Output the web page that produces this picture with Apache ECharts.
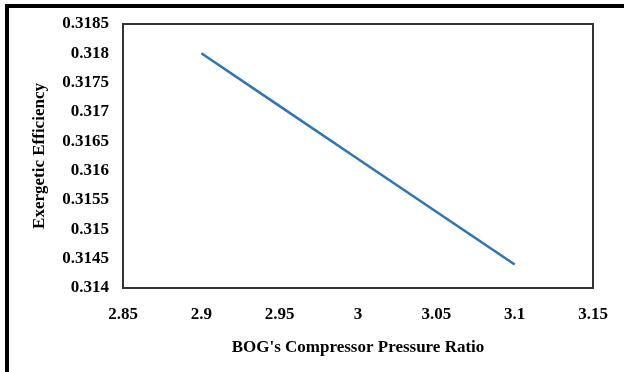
<!DOCTYPE html>
<html>
<head>
<meta charset="utf-8">
<script src="https://cdn.jsdelivr.net/npm/echarts@6/dist/echarts.min.js"></script>
<style>
html,body{margin:0;padding:0;background:#fff;}
#chart{width:624px;height:372px;}
</style>
</head>
<body>
<div id="chart"></div>
<script>
var pressureRatio = [2.9, 2.95, 3.0, 3.05, 3.1];
var exergeticEfficiency = [0.318, 0.3171, 0.3162, 0.3153, 0.3144];
var xTitle = "BOG's Compressor Pressure Ratio";
var yTitle = "Exergetic Efficiency";

var chart = echarts.init(document.getElementById('chart'), null, {renderer: 'canvas'});
var font = "'Liberation Serif', 'Times New Roman', serif";
var data = pressureRatio.map(function (x, i) { return [x, exergeticEfficiency[i]]; });

chart.setOption({
  animation: false,
  backgroundColor: '#fff',
  grid: {
    left: 123, right: 31, top: 24, bottom: 84,
    show: true, borderColor: '#333', borderWidth: 2, backgroundColor: 'transparent'
  },
  xAxis: {
    type: 'value', min: 2.85, max: 3.15, interval: 0.05,
    name: xTitle, nameLocation: 'middle', nameGap: 51,
    nameTextStyle: {fontFamily: font, fontWeight: 'bold', fontSize: 17, color: '#000'},
    axisLine: {show: true, lineStyle: {color: '#333', width: 2}},
    axisTick: {show: false},
    splitLine: {show: false},
    axisLabel: {
      margin: 18, fontFamily: font, fontWeight: 'bold', fontSize: 17, color: '#000',
      formatter: function (v) { return String(+v.toFixed(2)); }
    }
  },
  yAxis: {
    type: 'value', min: 0.314, max: 0.3185, interval: 0.0005,
    name: yTitle, nameLocation: 'middle', nameGap: 75, nameRotate: 90,
    nameTextStyle: {fontFamily: font, fontWeight: 'bold', fontSize: 17, color: '#000'},
    axisLine: {show: true, lineStyle: {color: '#333', width: 2}},
    axisTick: {show: false},
    splitLine: {show: false},
    axisLabel: {
      margin: 14, fontFamily: font, fontWeight: 'bold', fontSize: 17, color: '#000',
      formatter: function (v) { return String(+v.toFixed(4)); }
    }
  },
  series: [{
    type: 'line',
    data: data,
    showSymbol: false,
    lineStyle: {color: '#2d74ba', width: 2.5},
    itemStyle: {color: '#2d74ba'}
  }],
  graphic: [
    {type: 'rect', shape: {x: 5, y: 4, width: 619, height: 4}, style: {fill: '#000'}},
    {type: 'rect', shape: {x: 5, y: 4, width: 4, height: 368}, style: {fill: '#000'}}
  ]
});
</script>
</body>
</html>
